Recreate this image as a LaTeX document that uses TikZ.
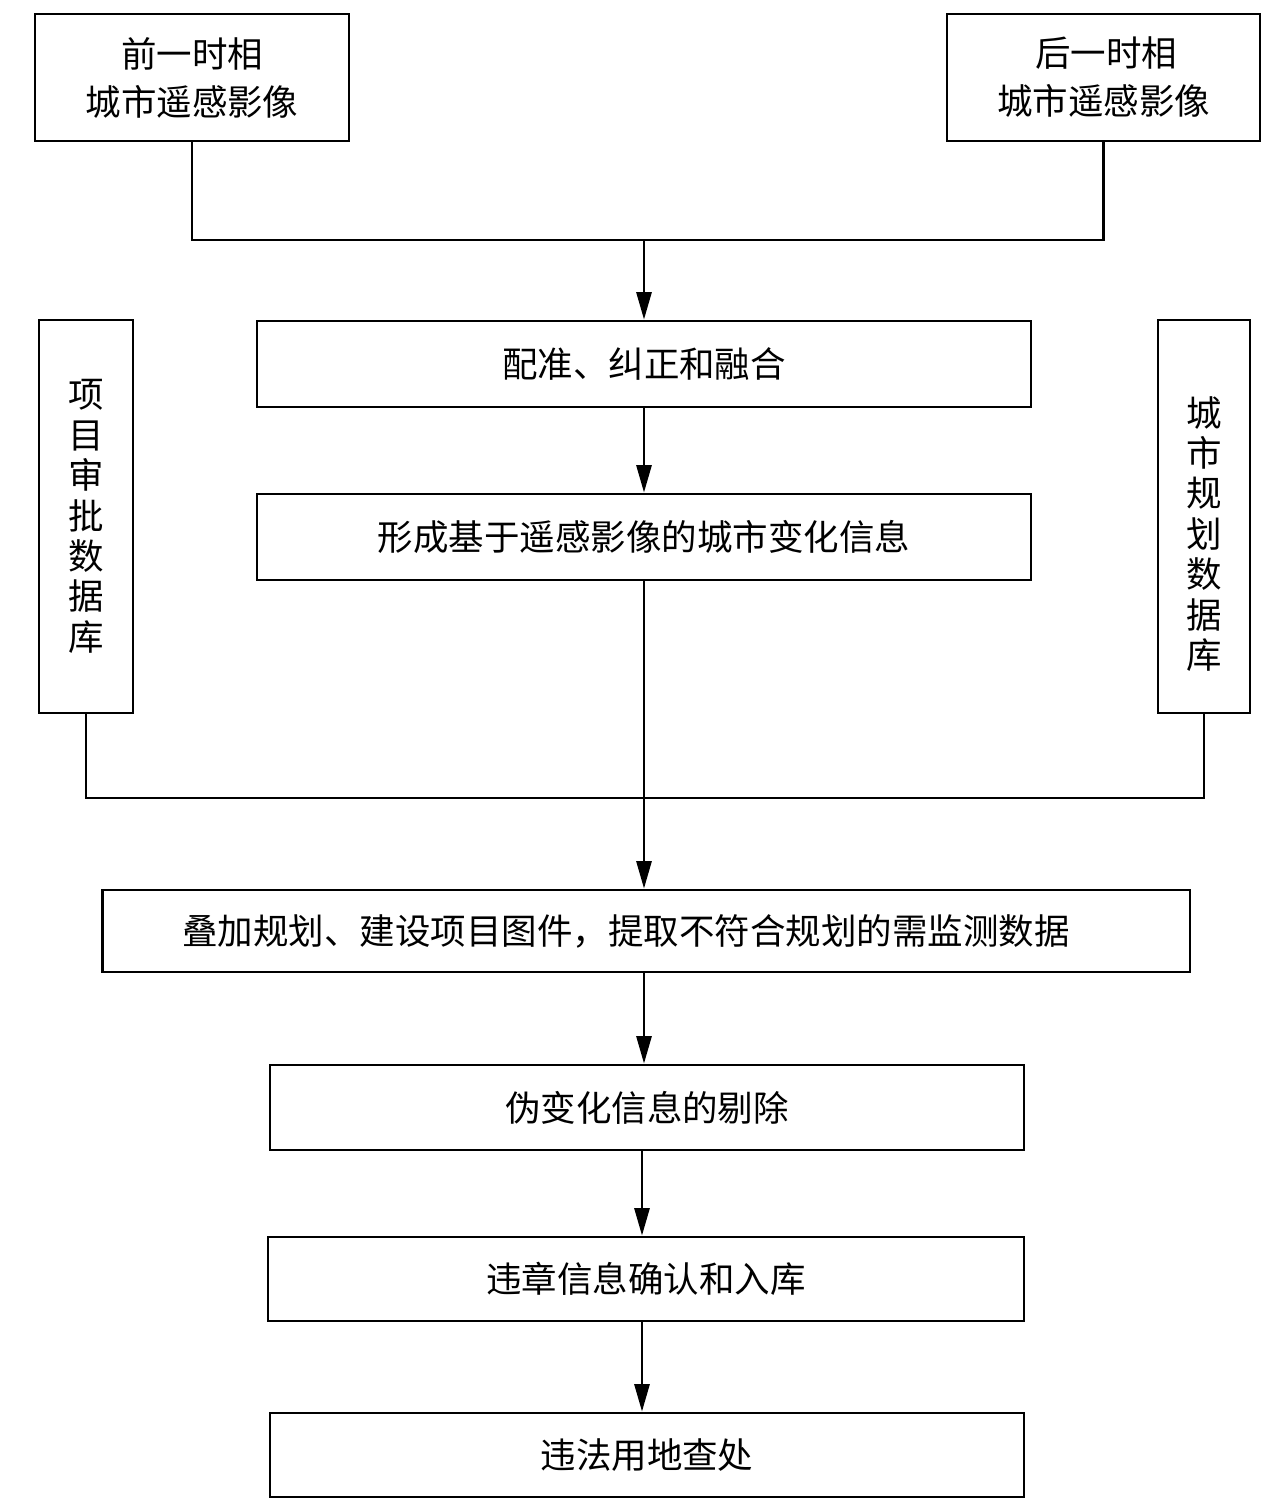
\documentclass[tikz,border=0pt]{standalone}
\usepackage{fontspec}
\newfontfamily\cjk{Noto Sans CJK SC}
\usetikzlibrary{arrows.meta}
\begin{document}
\begin{tikzpicture}[x=0.02cm,y=-0.02cm,
  box/.style={draw,line width=1.6pt,rectangle,inner sep=0pt,align=center,
    font=\cjk\fontsize{20.2pt}{23pt}\selectfont},
  conn/.style={line width=1.6pt},
  arr/.style={conn,-{Triangle[length=0.55cm,width=0.3cm]}}]
\useasboundingbox (0,0) rectangle (1278,1511);
\node[box,minimum width=6.28cm,minimum height=2.54cm] (b1) at (192,77.5) {前一时相\\[4.3pt]城市遥感影像};
\node[box,minimum width=6.26cm,minimum height=2.54cm] (b2) at (1103.5,77.5) {\mbox{}\hspace{0.1cm}后一时相\\[4.3pt]城市遥感影像};
\node[box,minimum width=15.48cm,minimum height=1.72cm] (b3) at (644,364) {配准、纠正和融合};
\node[box,minimum width=15.48cm,minimum height=1.72cm] (b4) at (644,537) {形成基于遥感影像的城市变化信息};
\node[box,minimum width=1.88cm,minimum height=7.86cm] (dbl) at (86,516.5) {项\\目\\审\\批\\数\\据\\库};
\node[box,minimum width=1.84cm,minimum height=7.86cm] (dbr) at (1204,516.5) {\mbox{}\\[13.7pt]城\\市\\规\\划\\数\\据\\库};
\node[box,minimum width=21.76cm,minimum height=1.64cm] (b5) at (646,931) {叠加规划、建设项目图件，提取不符合规划的需监测数据\hspace{0.8cm}};
\node[box,minimum width=15.08cm,minimum height=1.70cm] (b6) at (647,1107.5) {伪变化信息的剔除};
\node[box,minimum width=15.12cm,minimum height=1.68cm] (b7) at (646,1279) {违章信息确认和入库};
\node[box,minimum width=15.08cm,minimum height=1.68cm] (b8) at (647,1455) {违法用地查处};
\coordinate (jA) at (644,240);
\coordinate (jB) at (644,798);
\draw[conn] (b1.south) |- (jA) -| (b2.south);
\draw[arr] (jA) -- (b3.north);
\draw[arr] (b3.south) -- (b4.north);
\draw[conn] (dbl.south) |- (jB) -| (dbr.south);
\draw[arr] (b4.south) -- (b4.south |- b5.north);
\draw[arr] (b5.south -| 644,0) -- (b6.north -| 644,0);
\draw[arr] (b6.south -| 642,0) -- (b7.north -| 642,0);
\draw[arr] (b7.south -| 642,0) -- (b8.north -| 642,0);
\end{tikzpicture}
\end{document}
